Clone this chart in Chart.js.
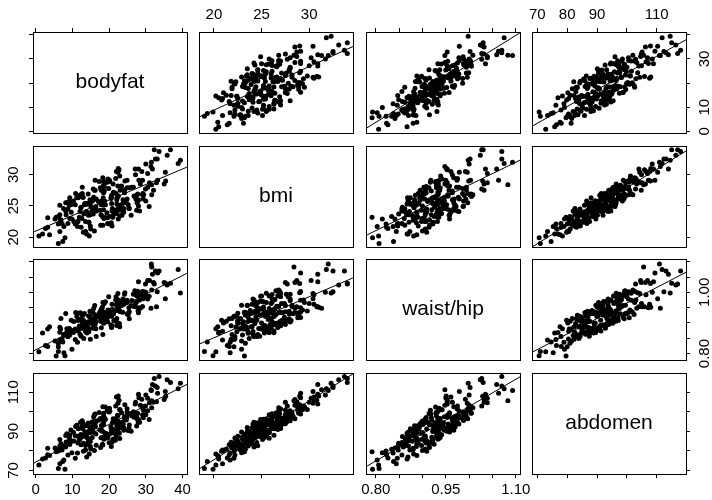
<!DOCTYPE html>
<html>
<head>
<meta charset="utf-8">
<script src="https://cdn.jsdelivr.net/npm/chart.js@4.4.0/dist/chart.umd.min.js"></script>
<style>
  html, body { margin: 0; padding: 0; background: #fff; overflow: hidden; }
  #matrix { position: relative; width: 712px; height: 500px; }
  #matrix canvas { position: absolute; }
</style>
</head>
<body>
<div id="matrix"></div>
<script>
// one row per subject, ten subjects per line
const bodyfat = [
  9.7, 18.3, 8.2, 22.9, 26.6, 20.9, 9.6, 20.1, 6.6, 16.4,
  6.9, 20.7, 25.4, 20.1, 27.6, 15.6, 21.1, 15.8, 22.5, 30.5,
  2.7, 16.0, 22.4, 32.6, 9.9, 20.6, 9.2, 6.2, 28.3, 17.9,
  32.9, 13.3, 16.1, 24.0, 30.0, 17.1, 20.8, 20.2, 15.4, 11.2,
  36.7, 27.0, 14.3, 32.1, 13.8, 3.3, 14.6, 22.9, 18.7, 35.3,
  24.2, 21.8, 13.9, 6.6, 20.8, 0.9, 30.9, 18.5, 3.8, 30.5,
  16.5, 16.5, 20.7, 27.3, 12.6, 19.0, 14.9, 17.9, 9.3, 26.2,
  33.6, 9.3, 26.0, 22.0, 21.2, 18.6, 7.4, 24.9, 10.9, 17.7,
  29.9, 15.0, 12.7, 11.5, 38.8, 23.5, 6.2, 26.8, 14.0, 22.9,
  13.9, 22.4, 11.5, 31.6, 11.6, 29.1, 21.7, 5.6, 21.9, 21.2,
  22.5, 17.8, 23.0, 17.3, 13.1, 31.8, 12.6, 22.8, 27.1, 28.0,
  15.0, 18.3, 8.5, 24.0, 31.6, 7.7, 22.1, 14.5, 19.5, 8.3,
  22.4, 15.5, 35.8, 18.5, 15.3, 8.2, 35.0, 18.8, 19.0, 11.4,
  20.5, 24.3, 10.4, 27.8, 13.6, 15.7, 25.2, 33.2, 12.4, 23.8,
  6.2, 18.5, 22.0, 24.9, 12.9, 8.8, 22.1, 13.6, 22.7, 29.3,
  13.4, 29.4, 8.8, 23.8, 19.6, 33.1, 13.8, 16.2, 18.2, 17.5,
  31.0, 10.8, 24.7, 5.3, 23.4, 12.7, 28.1, 21.0, 18.4, 13.0,
  17.9, 20.9, 29.1, 14.4, 27.5, 31.5, 9.2, 24.9, 1.9, 16.2,
  18.7, 19.7, 22.1, 7.6, 30.0, 12.2, 6.6, 28.5, 15.7, 22.5,
  39.4, 18.0, 19.6, 19.9, 6.8, 28.0, 12.9, 28.9, 14.5, 24.2,
  14.2, 25.5, 23.0, 12.3, 3.3, 18.7, 22.6, 28.0, 13.9, 27.9,
  18.5, 14.9, 14.5, 27.2, 27.5, 21.9, 10.8, 16.3, 29.2, 10.3,
  11.9, 21.3, 31.4, 20.6, 22.3, 20.0, 8.0, 15.7, 19.4, 18.3,
  7.2, 17.6, 18.2, 12.1, 35.4, 23.7, 25.5, 32.3, 14.8, 12.4
];

const bmi = [
  24.0, 21.9, 25.5, 23.4, 28.0, 24.6, 25.2, 23.3, 23.6, 24.9,
  22.8, 26.7, 24.6, 29.1, 25.5, 26.0, 28.5, 26.4, 22.9, 28.0,
  21.4, 21.0, 30.4, 32.5, 22.9, 22.3, 25.8, 22.1, 24.2, 25.6,
  28.7, 25.2, 27.5, 24.0, 31.7, 25.7, 21.8, 28.9, 24.3, 26.3,
  34.0, 26.5, 26.9, 27.5, 24.1, 23.1, 20.2, 25.1, 28.1, 30.4,
  27.1, 29.4, 24.0, 25.1, 24.2, 20.2, 24.9, 27.1, 20.4, 30.2,
  24.2, 26.1, 25.4, 26.1, 23.0, 28.8, 23.6, 25.2, 26.3, 28.0,
  33.7, 23.0, 23.5, 30.5, 27.2, 23.0, 19.3, 27.9, 27.0, 21.9,
  27.7, 25.0, 28.0, 22.5, 31.8, 23.5, 23.3, 26.6, 25.3, 29.8,
  20.5, 26.6, 22.5, 28.4, 26.3, 26.8, 24.0, 23.2, 27.0, 23.6,
  31.0, 23.6, 24.9, 28.9, 23.7, 30.9, 26.5, 24.3, 30.9, 25.0,
  21.3, 27.4, 25.5, 24.6, 26.8, 21.7, 26.0, 22.4, 28.8, 23.6,
  28.2, 24.5, 33.1, 24.4, 25.7, 24.2, 28.5, 25.8, 25.2, 21.7,
  26.3, 29.0, 22.5, 26.9, 20.9, 27.7, 25.2, 29.1, 24.8, 24.1,
  19.0, 28.3, 23.8, 29.1, 26.4, 24.5, 24.4, 22.5, 30.8, 26.1,
  25.4, 26.8, 22.2, 26.0, 22.2, 32.5, 25.4, 29.1, 23.3, 24.3,
  28.7, 25.2, 25.5, 22.9, 28.2, 27.0, 29.1, 23.2, 26.3, 20.8,
  27.5, 24.3, 29.1, 23.5, 24.3, 32.0, 25.1, 26.1, 20.5, 27.5,
  23.2, 29.3, 25.3, 24.6, 25.8, 26.8, 20.9, 28.5, 23.7, 26.6,
  32.3, 25.8, 23.1, 27.8, 22.7, 26.0, 26.4, 30.5, 22.4, 27.6,
  23.9, 24.6, 27.5, 24.7, 21.6, 27.4, 24.9, 30.9, 25.3, 25.8,
  28.9, 21.8, 25.4, 30.0, 26.7, 24.3, 22.1, 24.8, 27.0, 25.8,
  23.2, 27.1, 31.3, 26.2, 26.4, 22.1, 19.9, 25.9, 23.9, 29.5,
  22.2, 27.9, 25.2, 24.1, 29.0, 25.4, 27.9, 34.0, 26.0, 21.6
];

const waistHip = [
  0.909, 0.862, 0.931, 0.888, 0.994, 0.945, 0.877, 0.935, 0.870, 0.881,
  0.915, 0.885, 0.950, 0.936, 0.997, 0.883, 0.934, 0.947, 0.958, 0.978,
  0.826, 0.900, 0.996, 1.070, 0.814, 0.887, 0.870, 0.822, 0.975, 0.884,
  0.953, 0.931, 0.957, 0.961, 1.000, 0.920, 0.891, 0.933, 0.938, 0.921,
  1.030, 1.005, 0.904, 1.032, 0.872, 0.880, 0.881, 0.970, 0.908, 0.979,
  0.964, 0.975, 0.888, 0.886, 0.961, 0.806, 0.987, 0.901, 0.888, 1.039,
  0.856, 0.905, 0.922, 0.993, 0.885, 0.928, 0.919, 0.944, 0.868, 0.973,
  1.070, 0.861, 0.957, 0.961, 0.933, 0.899, 0.838, 0.930, 0.934, 0.915,
  1.027, 0.900, 0.903, 0.908, 1.075, 0.958, 0.834, 0.954, 0.867, 0.939,
  0.869, 0.955, 0.932, 1.083, 0.874, 0.954, 0.907, 0.792, 0.986, 0.930,
  0.951, 0.906, 0.972, 0.931, 0.849, 1.059, 0.928, 0.898, 0.953, 0.988,
  0.906, 0.919, 0.881, 0.967, 1.008, 0.803, 0.915, 0.923, 0.917, 0.866,
  0.954, 0.909, 1.024, 0.920, 0.911, 0.859, 1.032, 0.933, 0.969, 0.837,
  0.894, 0.999, 0.905, 1.004, 0.873, 0.908, 0.927, 1.063, 0.857, 0.978,
  0.807, 0.930, 0.941, 0.974, 0.898, 0.856, 0.956, 0.898, 0.953, 0.979,
  0.879, 1.002, 0.856, 0.964, 0.922, 1.002, 0.890, 0.918, 0.925, 0.933,
  1.039, 0.880, 0.967, 0.841, 0.958, 0.891, 0.950, 0.933, 0.927, 0.909,
  0.906, 0.936, 1.003, 0.878, 0.969, 1.093, 0.882, 0.968, 0.867, 0.895,
  0.935, 0.942, 0.892, 0.862, 0.988, 0.933, 0.844, 0.948, 0.932, 0.899,
  0.998, 0.947, 0.904, 0.986, 0.880, 0.933, 0.925, 0.992, 0.871, 0.994,
  0.888, 0.937, 0.937, 0.882, 0.823, 0.964, 0.946, 1.035, 0.872, 0.940,
  0.929, 0.847, 0.923, 0.964, 0.989, 0.906, 0.846, 0.926, 0.997, 0.869,
  0.890, 0.908, 0.948, 0.942, 0.977, 0.922, 0.793, 0.895, 0.931, 0.967,
  0.848, 0.938, 0.952, 0.863, 1.029, 0.935, 0.914, 1.027, 0.938, 0.914
];

const abdomen = [
  85.2, 83.0, 87.9, 86.4, 100.0, 94.4, 90.7, 88.5, 82.5, 88.6,
  83.6, 90.9, 91.6, 101.8, 96.4, 92.8, 96.4, 97.5, 89.6, 100.5,
  76.4, 80.2, 104.3, 113.1, 79.1, 82.2, 86.5, 80.0, 94.6, 90.3,
  105.1, 88.2, 98.6, 91.8, 108.5, 95.7, 84.4, 100.3, 86.9, 93.1,
  115.0, 99.4, 94.2, 104.8, 87.7, 81.3, 78.4, 92.2, 97.1, 110.3,
  96.8, 103.0, 89.1, 85.8, 91.0, 72.8, 96.0, 93.5, 77.6, 106.9,
  82.9, 95.1, 89.9, 99.0, 87.2, 102.4, 84.8, 93.0, 88.0, 97.9,
  118.0, 83.3, 90.1, 107.6, 94.9, 86.0, 74.6, 99.8, 92.5, 81.7,
  102.9, 89.4, 95.4, 84.1, 111.8, 92.0, 80.9, 97.2, 88.9, 101.2,
  76.9, 93.8, 87.5, 105.6, 91.3, 98.3, 85.5, 79.6, 96.6, 90.0,
  108.0, 86.7, 94.0, 99.6, 83.9, 113.9, 92.6, 89.0, 104.0, 95.5,
  81.0, 97.0, 88.8, 90.5, 102.0, 75.3, 93.3, 86.2, 100.8, 84.6,
  98.0, 91.2, 116.4, 87.0, 94.7, 82.0, 106.2, 89.3, 96.2, 78.9,
  92.3, 103.6, 85.0, 99.2, 80.5, 95.0, 90.4, 109.4, 87.4, 93.7,
  71.0, 97.8, 88.3, 101.5, 94.1, 84.3, 91.9, 82.8, 105.9, 96.9,
  89.8, 100.6, 77.9, 93.6, 86.6, 112.4, 92.9, 98.8, 83.4, 90.8,
  104.6, 87.8, 95.8, 81.5, 99.5, 91.4, 107.2, 85.9, 94.3, 79.8,
  96.3, 89.2, 102.7, 84.9, 92.7, 110.9, 88.1, 97.4, 75.8, 93.9,
  86.3, 101.0, 91.1, 82.6, 98.5, 94.6, 73.4, 103.3, 89.7, 95.2,
  114.5, 90.6, 87.1, 99.9, 80.7, 96.1, 92.1, 106.4, 85.3, 97.6,
  83.8, 93.2, 100.9, 88.4, 78.0, 95.6, 91.7, 108.9, 86.8, 94.5,
  99.3, 82.3, 90.2, 104.9, 97.3, 87.6, 76.2, 92.4, 101.4, 89.5,
  85.6, 95.3, 111.2, 91.5, 98.2, 84.2, 70.6, 93.4, 88.7, 102.6,
  80.4, 96.5, 90.0, 86.1, 107.9, 94.8, 99.1, 117.0, 92.0, 83.1
];

const varNames = ['bodyfat', 'bmi', 'waist/hip', 'abdomen'];

// axis limits (data range plus a little slack)
const bodyfatRange = [-0.7, 41.2];
const bmiRange = [18.43, 34.6];
const waistHipRange = [0.779, 1.109];
const abdomenRange = [68.2, 119.8];

// tick positions; '' = tick mark without a label
const bodyfatTicks = [0, 10, 20, 30, 40];
const bodyfatBottomLabels = ['0', '10', '20', '30', '40'];
const bodyfatRightLabels = ['0', '10', '', '30', ''];
const bmiTicks = [20, 25, 30];
const bmiTopLabels = ['20', '25', '30'];
const bmiLeftLabels = ['20', '25', '30'];
const waistHipTicks = [0.80, 0.85, 0.90, 0.95, 1.00, 1.05, 1.10];
const waistHipBottomLabels = ['0.80', '', '', '0.95', '', '', '1.10'];
const waistHipRightLabels = ['0.80', '', '', '', '1.00', '', ''];
const abdomenTicks = [70, 80, 90, 100, 110];
const abdomenTopLabels = ['70', '80', '90', '', '110'];
const abdomenLeftLabels = ['70', '', '90', '', '110'];

const vars = [
  { values: bodyfat, range: bodyfatRange, ticks: bodyfatTicks, bottom: bodyfatBottomLabels, right: bodyfatRightLabels },
  { values: bmi, range: bmiRange, ticks: bmiTicks, top: bmiTopLabels, left: bmiLeftLabels },
  { values: waistHip, range: waistHipRange, ticks: waistHipTicks, bottom: waistHipBottomLabels, right: waistHipRightLabels },
  { values: abdomen, range: abdomenRange, ticks: abdomenTicks, top: abdomenTopLabels, left: abdomenLeftLabels }
];

// panel geometry
const panelLeft = [33, 199, 366, 532];
const panelTop = [32, 146, 259, 373];
const panelW = 154, panelH = 101;
const M = 30;          // room around each panel for ticks and labels
const TICK = 4;
const FONT = '"Liberation Sans", Arial, Helvetica, sans-serif';
const tickFont = { family: FONT, size: 15 };
const LABEL_DIST = 19; // from box edge to centre of rotated labels

const measure = document.createElement('canvas').getContext('2d');
measure.font = '15px ' + FONT;
function widest(labels) {
  return Math.max(...labels.map(l => measure.measureText(l).width));
}

function fitLine(xs, ys) {
  const n = xs.length;
  const mx = xs.reduce((s, v) => s + v, 0) / n;
  const my = ys.reduce((s, v) => s + v, 0) / n;
  let sxy = 0, sxx = 0;
  for (let i = 0; i < n; i++) {
    sxy += (xs[i] - mx) * (ys[i] - my);
    sxx += (xs[i] - mx) * (xs[i] - mx);
  }
  const b = sxy / sxx;
  return { a: my - b * mx, b: b };
}

function makeScale(v, axis, position, labels, showTicks) {
  const vertical = axis === 'y';
  let pad = 3;
  if (position === 'top') pad = 4;
  if (vertical && labels) pad = LABEL_DIST - TICK - widest(labels) / 2;
  return {
    type: 'linear',
    axis: axis,
    position: position,
    min: v.range[0],
    max: v.range[1],
    afterBuildTicks: s => { s.ticks = v.ticks.map(t => ({ value: t })); },
    afterFit: s => { if (vertical) s.width = M; else s.height = M; },
    ticks: {
      display: !!labels,
      autoSkip: false,
      minRotation: vertical ? 90 : 0,
      maxRotation: vertical ? 90 : 0,
      crossAlign: vertical ? 'center' : 'near',
      padding: pad,
      color: '#000',
      font: tickFont,
      callback: (val, i) => labels ? labels[i] : ''
    },
    grid: {
      drawOnChartArea: false,
      drawTicks: showTicks,
      tickLength: TICK,
      color: '#000',
      lineWidth: 1
    },
    border: { display: true, color: '#000', width: 1 }
  };
}

// writes the variable name in the middle of a diagonal panel
const diagLabel = {
  id: 'diagLabel',
  afterDraw(chart, args, opts) {
    if (!opts.text) return;
    const { ctx, chartArea: a } = chart;
    ctx.save();
    ctx.font = '21px ' + FONT;
    ctx.fillStyle = '#000';
    ctx.textAlign = 'center';
    ctx.textBaseline = 'middle';
    ctx.fillText(opts.text, (a.left + a.right) / 2, (a.top + a.bottom) / 2);
    ctx.restore();
  }
};

const host = document.getElementById('matrix');

for (let r = 0; r < 4; r++) {
  for (let c = 0; c < 4; c++) {
    const xv = vars[c], yv = vars[r];
    const cv = document.createElement('canvas');
    cv.width = panelW + 2 * M;
    cv.height = panelH + 2 * M;
    cv.style.left = (panelLeft[c] - M) + 'px';
    cv.style.top = (panelTop[r] - M) + 'px';
    host.appendChild(cv);

    const topLabels = (r === 0 && c % 2 === 1) ? xv.top : null;
    const bottomLabels = (r === 3 && c % 2 === 0) ? xv.bottom : null;
    const leftLabels = (c === 0 && r % 2 === 1) ? yv.left : null;
    const rightLabels = (c === 3 && r % 2 === 0) ? yv.right : null;

    const datasets = [];
    if (r !== c) {
      const fit = fitLine(xv.values, yv.values);
      datasets.push({
        data: xv.range.map(x => ({ x: x, y: fit.a + fit.b * x })),
        showLine: true,
        borderColor: '#000',
        borderWidth: 1,
        pointRadius: 0
      });
      datasets.push({
        data: xv.values.map((x, i) => ({ x: x, y: yv.values[i] })),
        pointRadius: 2.5,
        pointBackgroundColor: '#000',
        pointBorderWidth: 0
      });
    }

    new Chart(cv, {
      type: 'scatter',
      data: { datasets: datasets },
      plugins: [diagLabel],
      options: {
        responsive: false,
        animation: false,
        devicePixelRatio: 1,
        events: [],
        layout: { padding: 0 },
        plugins: {
          legend: { display: false },
          tooltip: { enabled: false },
          diagLabel: { text: r === c ? varNames[r] : '' }
        },
        scales: {
          x: makeScale(xv, 'x', 'bottom', bottomLabels, r === 3),
          x2: makeScale(xv, 'x', 'top', topLabels, r === 0),
          y: makeScale(yv, 'y', 'left', leftLabels, c === 0),
          y2: makeScale(yv, 'y', 'right', rightLabels, c === 3)
        }
      }
    });
  }
}
</script>
</body>
</html>
